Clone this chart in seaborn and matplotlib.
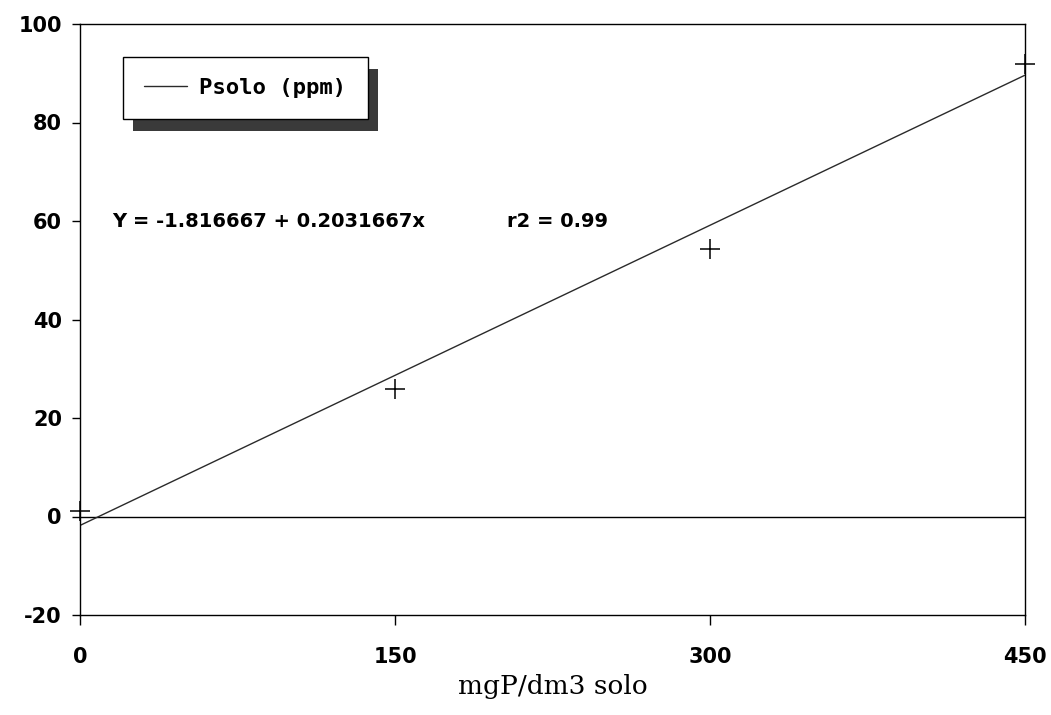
import numpy as np
import pandas as pd
import matplotlib
matplotlib.use("Agg")
import matplotlib.pyplot as plt
from matplotlib.patches import Rectangle
from matplotlib.font_manager import FontProperties
import seaborn as sns

# ---- data ----
x_values = [0, 150, 300, 450]          # mgP/dm3 solo
y_values = [1.2, 25.9, 54.3, 91.8]     # Psolo (ppm)
intercept = -1.816667
slope = 0.2031667
r2 = 0.99
series_label = "Psolo (ppm)"
x_label = "mgP/dm3 solo"
x_ticks = [0, 150, 300, 450]
y_ticks = [-20, 0, 20, 40, 60, 80, 100]

df = pd.DataFrame({"x": x_values, "y": y_values})
fit_x = np.array([min(x_values), max(x_values)], dtype=float)
fit_df = pd.DataFrame({"x": fit_x, "y": intercept + slope * fit_x})

sns.set_theme(style="white")
plt.rcParams["font.family"] = ["DejaVu Sans"]
plt.rcParams["text.color"] = "black"

fig = plt.figure(figsize=(10.51, 7.15), dpi=100)
ax = fig.add_axes([80 / 1051, 100 / 715, 945 / 1051, 591 / 715])

sns.lineplot(data=fit_df, x="x", y="y", ax=ax, color="#2a2a2a",
             linewidth=1.0, label=series_label)
sns.scatterplot(data=df, x="x", y="y", ax=ax, marker="+", s=200, color="black",
                linewidth=1.1, legend=False, zorder=3)
ax.collections[-1].set_clip_on(False)

ax.axhline(0, color="black", linewidth=1.0, zorder=1)

ax.set_xlim(0, 450)
ax.set_ylim(-20, 100)
ax.set_xticks(x_ticks)
ax.set_yticks(y_ticks)
ax.set_xticklabels([str(t) for t in x_ticks])
ax.set_yticklabels([str(t) for t in y_ticks])

for s in ax.spines.values():
    s.set_visible(True)
    s.set_color("black")
    s.set_linewidth(1.0)

ax.tick_params(axis="y", direction="out", length=6, width=1, pad=7,
               labelsize=15, colors="black", left=True)
ax.tick_params(axis="x", direction="out", length=7, width=1, pad=16,
               labelsize=15, colors="black", bottom=True)
for lab in ax.get_xticklabels() + ax.get_yticklabels():
    lab.set_fontweight("bold")

ax.set_ylabel("")
ax.set_xlabel(x_label, fontsize=19, family="DejaVu Serif", color="black")
ax.xaxis.set_label_coords(0.5, -0.100)

ax.text(15.2, 59.9, f"Y = {intercept:.6f} + {slope:.7f}x", fontsize=14,
        fontweight="bold", va="center", ha="left", color="black")
ax.text(203.3, 59.9, f"r2 = {r2:.2f}", fontsize=14, fontweight="bold",
        va="center", ha="left", color="black")

leg = ax.legend(loc="upper left", bbox_to_anchor=(0.0455, 0.9442),
                borderaxespad=0, frameon=True, fancybox=False, framealpha=1,
                edgecolor="black", handlelength=1.94, handletextpad=0.55,
                borderpad=0.95,
                prop=FontProperties(family="DejaVu Sans Mono", weight="bold", size=16))
leg.get_frame().set_linewidth(1.0)
for t in leg.get_texts():
    t.set_color("black")
leg.set_zorder(6)

fig.canvas.draw()
bb = leg.get_window_extent().transformed(ax.transAxes.inverted())
dx, dy = 10 / 945, 12 / 591
shadow = Rectangle((bb.x0 + dx, bb.y0 - dy), bb.width, bb.height,
                   transform=ax.transAxes, facecolor="#3a3a3a", edgecolor="none",
                   zorder=5.5, clip_on=False)
ax.add_artist(shadow)

fig.savefig("out.png", dpi=100)
